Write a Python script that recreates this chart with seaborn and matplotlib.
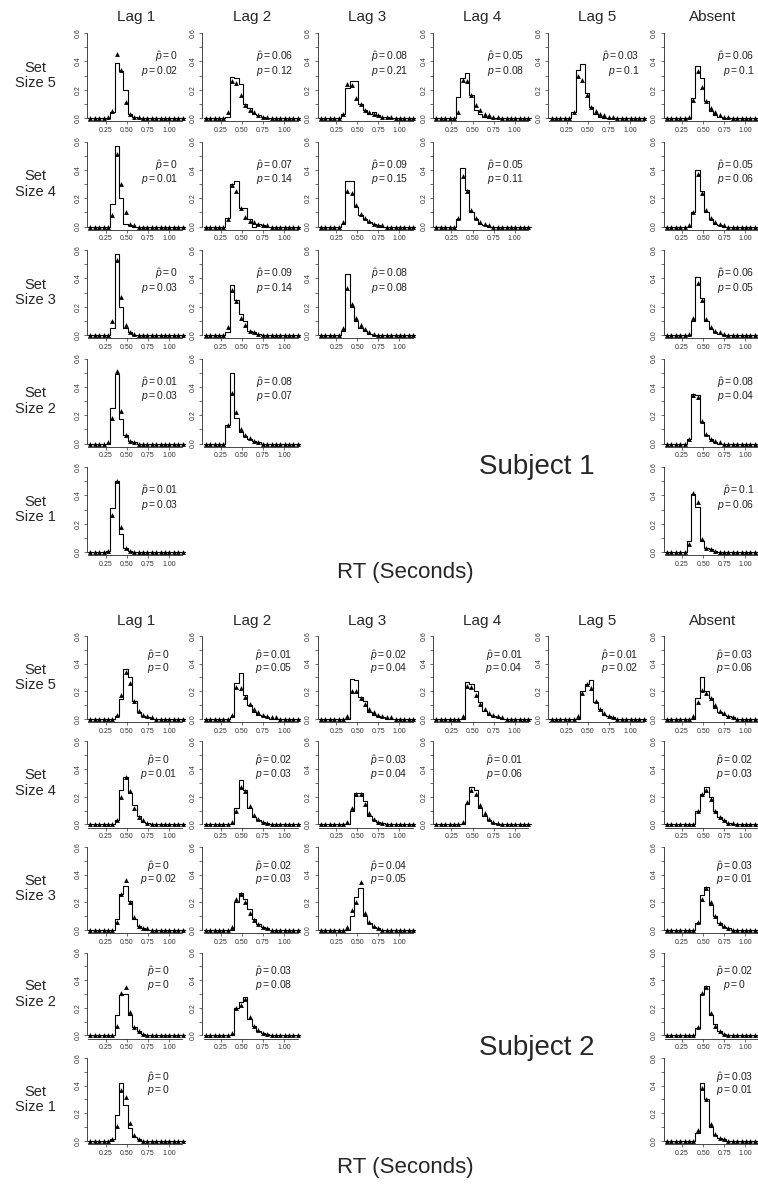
import numpy as np
import pandas as pd
import matplotlib
matplotlib.use("Agg")
import matplotlib.pyplot as plt
import seaborn as sns

# RT bins (seconds), 22 bins
bin_edges = [round(v, 4) for v in np.linspace(0.045, 1.189, 23)]
bin_mids = [(a + b) / 2 for a, b in zip(bin_edges[:-1], bin_edges[1:])]

col_titles = ['Lag 1', 'Lag 2', 'Lag 3', 'Lag 4', 'Lag 5', 'Absent']
set_sizes = [5, 4, 3, 2, 1]

# ---------------- Subject 1: observed (step) / predicted (triangles) ----------------
s1_ss5_lag1_obs = [0, 0, 0, 0, 0, .04, .39, .33, .20, .03, .01, 0, 0, 0, 0, 0, 0, 0, 0, 0, 0, 0]
s1_ss5_lag1_pred = [0, 0, 0, 0, .01, .05, .45, .34, .11, .03, .01, .01, 0, 0, 0, 0, 0, 0, 0, 0, 0, 0]
s1_ss5_lag2_obs = [0, 0, 0, 0, 0, .01, .29, .28, .24, .10, .07, .03, .02, .01, 0, 0, 0, 0, 0, 0, 0, 0]
s1_ss5_lag2_pred = [0, 0, 0, 0, 0, .04, .26, .25, .16, .09, .06, .04, .02, .01, .01, 0, 0, 0, 0, 0, 0, 0]
s1_ss5_lag3_obs = [0, 0, 0, 0, 0, .03, .21, .26, .26, .10, .06, .03, .04, .02, .01, .01, 0, 0, 0, 0, 0, 0]
s1_ss5_lag3_pred = [0, 0, 0, 0, 0, .03, .24, .23, .14, .10, .06, .04, .03, .02, .01, .01, .01, 0, 0, 0, 0, 0]
s1_ss5_lag4_obs = [0, 0, 0, 0, 0, .15, .28, .32, .16, .06, .03, .01, 0, 0, 0, 0, 0, 0, 0, 0, 0, 0]
s1_ss5_lag4_pred = [0, 0, 0, 0, 0, .04, .27, .26, .16, .09, .06, .03, .02, .01, .01, 0, 0, 0, 0, 0, 0, 0]
s1_ss5_lag5_obs = [0, 0, 0, 0, 0, .04, .34, .38, .18, .08, .03, .01, 0, 0, 0, 0, 0, 0, 0, 0, 0, 0]
s1_ss5_lag5_pred = [0, 0, 0, 0, 0, .04, .30, .27, .16, .08, .05, .03, .02, .01, .01, 0, 0, 0, 0, 0, 0, 0]
s1_ss5_abs_obs = [0, 0, 0, 0, 0, 0, .14, .37, .28, .12, .05, .02, .01, 0, 0, 0, 0, 0, 0, 0, 0, 0]
s1_ss5_abs_pred = [0, 0, 0, 0, 0, .01, .13, .33, .22, .12, .07, .04, .02, .01, .01, 0, 0, 0, 0, 0, 0, 0]

s1_ss4_lag1_obs = [0, 0, 0, 0, 0, .16, .57, .20, .02, .01, 0, 0, 0, 0, 0, 0, 0, 0, 0, 0, 0, 0]
s1_ss4_lag1_pred = [0, 0, 0, 0, 0, .08, .51, .30, .10, .02, .01, 0, 0, 0, 0, 0, 0, 0, 0, 0, 0, 0]
s1_ss4_lag2_obs = [0, 0, 0, 0, 0, .06, .30, .32, .13, .13, .05, 0, .02, .01, 0, 0, 0, 0, 0, 0, 0, 0]
s1_ss4_lag2_pred = [0, 0, 0, 0, 0, .05, .29, .25, .13, .07, .04, .03, .02, .01, .01, 0, 0, 0, 0, 0, 0, 0]
s1_ss4_lag3_obs = [0, 0, 0, 0, 0, .02, .32, .32, .14, .08, .05, .03, .02, .01, 0, 0, 0, 0, 0, 0, 0, 0]
s1_ss4_lag3_pred = [0, 0, 0, 0, 0, .03, .25, .24, .15, .09, .06, .04, .02, .01, .01, 0, 0, 0, 0, 0, 0, 0]
s1_ss4_lag4_obs = [0, 0, 0, 0, 0, .05, .41, .26, .10, .05, .02, .01, 0, 0, 0, 0, 0, 0, 0, 0, 0, 0]
s1_ss4_lag4_pred = [0, 0, 0, 0, 0, .06, .36, .25, .12, .06, .03, .02, .01, 0, 0, 0, 0, 0, 0, 0, 0, 0]
s1_ss4_abs_obs = [0, 0, 0, 0, 0, 0, .10, .40, .25, .10, .05, .02, .01, 0, 0, 0, 0, 0, 0, 0, 0, 0]
s1_ss4_abs_pred = [0, 0, 0, 0, 0, .01, .10, .37, .24, .12, .06, .03, .02, .01, 0, 0, 0, 0, 0, 0, 0, 0]

s1_ss3_lag1_obs = [0, 0, 0, 0, 0, .05, .57, .20, .05, .02, 0, 0, 0, 0, 0, 0, 0, 0, 0, 0, 0, 0]
s1_ss3_lag1_pred = [0, 0, 0, 0, 0, .10, .53, .27, .07, .02, .01, 0, 0, 0, 0, 0, 0, 0, 0, 0, 0, 0]
s1_ss3_lag2_obs = [0, 0, 0, 0, 0, .02, .35, .25, .15, .10, .03, .02, .01, 0, 0, 0, 0, 0, 0, 0, 0, 0]
s1_ss3_lag2_pred = [0, 0, 0, 0, 0, .06, .32, .24, .12, .07, .03, .02, .01, 0, 0, 0, 0, 0, 0, 0, 0, 0]
s1_ss3_lag3_obs = [0, 0, 0, 0, 0, .03, .43, .20, .10, .05, .03, .01, 0, 0, 0, 0, 0, 0, 0, 0, 0, 0]
s1_ss3_lag3_pred = [0, 0, 0, 0, 0, .05, .33, .22, .12, .07, .04, .02, .01, 0, 0, 0, 0, 0, 0, 0, 0, 0]
s1_ss3_abs_obs = [0, 0, 0, 0, 0, 0, .10, .41, .26, .10, .04, .02, .01, 0, 0, 0, 0, 0, 0, 0, 0, 0]
s1_ss3_abs_pred = [0, 0, 0, 0, 0, .01, .12, .37, .25, .11, .06, .03, .02, .01, 0, 0, 0, 0, 0, 0, 0, 0]

s1_ss2_lag1_obs = [0, 0, 0, 0, 0, .25, .49, .17, .06, .02, .01, 0, 0, 0, 0, 0, 0, 0, 0, 0, 0, 0]
s1_ss2_lag1_pred = [0, 0, 0, 0, .01, .18, .51, .23, .06, .02, .01, 0, 0, 0, 0, 0, 0, 0, 0, 0, 0, 0]
s1_ss2_lag2_obs = [0, 0, 0, 0, 0, .13, .50, .18, .08, .05, .03, .02, .01, 0, 0, 0, 0, 0, 0, 0, 0, 0]
s1_ss2_lag2_pred = [0, 0, 0, 0, 0, .13, .36, .22, .10, .06, .04, .02, .01, 0, 0, 0, 0, 0, 0, 0, 0, 0]
s1_ss2_abs_obs = [0, 0, 0, 0, 0, .03, .35, .34, .15, .06, .03, .01, 0, 0, 0, 0, 0, 0, 0, 0, 0, 0]
s1_ss2_abs_pred = [0, 0, 0, 0, 0, .03, .34, .33, .16, .07, .03, .02, .01, 0, 0, 0, 0, 0, 0, 0, 0, 0]

s1_ss1_lag1_obs = [0, 0, 0, 0, .01, .31, .50, .13, .03, .01, 0, 0, 0, 0, 0, 0, 0, 0, 0, 0, 0, 0]
s1_ss1_lag1_pred = [0, 0, 0, 0, .01, .26, .50, .18, .03, .01, 0, 0, 0, 0, 0, 0, 0, 0, 0, 0, 0, 0]
s1_ss1_abs_obs = [0, 0, 0, 0, 0, .08, .41, .32, .08, .03, .02, .01, 0, 0, 0, 0, 0, 0, 0, 0, 0, 0]
s1_ss1_abs_pred = [0, 0, 0, 0, 0, .06, .42, .35, .09, .03, .02, .01, 0, 0, 0, 0, 0, 0, 0, 0, 0, 0]

# ---------------- Subject 2 ----------------
s2_ss5_lag1_obs = [0, 0, 0, 0, 0, 0, .02, .14, .36, .30, .13, .05, .02, .01, 0, 0, 0, 0, 0, 0, 0, 0]
s2_ss5_lag1_pred = [0, 0, 0, 0, 0, 0, .03, .17, .34, .26, .13, .06, .03, .02, .01, 0, 0, 0, 0, 0, 0, 0]
s2_ss5_lag2_obs = [0, 0, 0, 0, 0, 0, .01, .26, .33, .17, .10, .05, .03, .02, .01, 0, 0, 0, 0, 0, 0, 0]
s2_ss5_lag2_pred = [0, 0, 0, 0, 0, 0, .03, .23, .22, .16, .11, .07, .05, .03, .02, .01, .01, 0, 0, 0, 0, 0]
s2_ss5_lag3_obs = [0, 0, 0, 0, 0, 0, 0, .29, .28, .16, .13, .05, .03, .02, .01, 0, 0, 0, 0, 0, 0, 0]
s2_ss5_lag3_pred = [0, 0, 0, 0, 0, 0, .02, .20, .20, .15, .11, .07, .05, .03, .02, .01, .01, 0, 0, 0, 0, 0]
s2_ss5_lag4_obs = [0, 0, 0, 0, 0, 0, 0, .27, .25, .20, .12, .06, .03, .02, .01, 0, 0, 0, 0, 0, 0, 0]
s2_ss5_lag4_pred = [0, 0, 0, 0, 0, 0, .02, .24, .23, .17, .11, .07, .04, .03, .02, .01, 0, 0, 0, 0, 0, 0]
s2_ss5_lag5_obs = [0, 0, 0, 0, 0, 0, 0, .20, .25, .28, .12, .07, .03, .02, .01, 0, 0, 0, 0, 0, 0, 0]
s2_ss5_lag5_pred = [0, 0, 0, 0, 0, 0, .02, .19, .25, .22, .13, .07, .04, .02, .01, 0, 0, 0, 0, 0, 0, 0]
s2_ss5_abs_obs = [0, 0, 0, 0, 0, 0, 0, .15, .30, .20, .15, .08, .05, .03, .02, .01, 0, 0, 0, 0, 0, 0]
s2_ss5_abs_pred = [0, 0, 0, 0, 0, 0, .02, .12, .21, .19, .15, .10, .06, .04, .02, .01, 0, 0, 0, 0, 0, 0]

s2_ss4_lag1_obs = [0, 0, 0, 0, 0, 0, .03, .25, .34, .23, .14, .06, .02, .01, 0, 0, 0, 0, 0, 0, 0, 0]
s2_ss4_lag1_pred = [0, 0, 0, 0, 0, 0, .03, .20, .34, .24, .12, .05, .03, .01, 0, 0, 0, 0, 0, 0, 0, 0]
s2_ss4_lag2_obs = [0, 0, 0, 0, 0, 0, 0, .12, .32, .25, .12, .05, .03, .02, .01, 0, 0, 0, 0, 0, 0, 0]
s2_ss4_lag2_pred = [0, 0, 0, 0, 0, 0, .02, .10, .27, .24, .13, .07, .04, .02, .01, 0, 0, 0, 0, 0, 0, 0]
s2_ss4_lag3_obs = [0, 0, 0, 0, 0, 0, 0, .10, .23, .23, .17, .06, .03, .02, .01, 0, 0, 0, 0, 0, 0, 0]
s2_ss4_lag3_pred = [0, 0, 0, 0, 0, 0, .02, .12, .22, .22, .15, .08, .04, .02, .01, 0, 0, 0, 0, 0, 0, 0]
s2_ss4_lag4_obs = [0, 0, 0, 0, 0, 0, 0, .15, .27, .25, .12, .06, .03, .01, 0, 0, 0, 0, 0, 0, 0, 0]
s2_ss4_lag4_pred = [0, 0, 0, 0, 0, 0, .02, .16, .25, .22, .14, .08, .04, .02, .01, 0, 0, 0, 0, 0, 0, 0]
s2_ss4_abs_obs = [0, 0, 0, 0, 0, 0, 0, .10, .22, .27, .20, .10, .05, .03, .01, 0, 0, 0, 0, 0, 0, 0]
s2_ss4_abs_pred = [0, 0, 0, 0, 0, 0, 0, .10, .22, .25, .18, .10, .05, .03, .01, .01, 0, 0, 0, 0, 0, 0]

s2_ss3_lag1_obs = [0, 0, 0, 0, 0, 0, .08, .26, .32, .21, .08, .03, .01, 0, 0, 0, 0, 0, 0, 0, 0, 0]
s2_ss3_lag1_pred = [0, 0, 0, 0, 0, 0, .06, .26, .36, .20, .09, .03, .01, .01, 0, 0, 0, 0, 0, 0, 0, 0]
s2_ss3_lag2_obs = [0, 0, 0, 0, 0, 0, 0, .20, .27, .22, .15, .08, .04, .02, .01, 0, 0, 0, 0, 0, 0, 0]
s2_ss3_lag2_pred = [0, 0, 0, 0, 0, 0, .02, .22, .26, .20, .12, .07, .04, .02, .01, 0, 0, 0, 0, 0, 0, 0]
s2_ss3_lag3_obs = [0, 0, 0, 0, 0, 0, 0, .10, .24, .30, .10, .05, .02, .01, 0, 0, 0, 0, 0, 0, 0, 0]
s2_ss3_lag3_pred = [0, 0, 0, 0, 0, 0, .02, .14, .20, .35, .12, .06, .03, .01, 0, 0, 0, 0, 0, 0, 0, 0]
s2_ss3_abs_obs = [0, 0, 0, 0, 0, 0, 0, .05, .25, .31, .18, .10, .05, .02, .01, 0, 0, 0, 0, 0, 0, 0]
s2_ss3_abs_pred = [0, 0, 0, 0, 0, 0, 0, .06, .22, .30, .20, .10, .05, .03, .01, 0, 0, 0, 0, 0, 0, 0]

s2_ss2_lag1_obs = [0, 0, 0, 0, 0, 0, .15, .29, .30, .15, .06, .03, .01, 0, 0, 0, 0, 0, 0, 0, 0, 0]
s2_ss2_lag1_pred = [0, 0, 0, 0, 0, 0, .07, .31, .35, .17, .06, .03, .01, 0, 0, 0, 0, 0, 0, 0, 0, 0]
s2_ss2_lag2_obs = [0, 0, 0, 0, 0, 0, 0, .20, .24, .28, .12, .07, .03, .02, .01, 0, 0, 0, 0, 0, 0, 0]
s2_ss2_lag2_pred = [0, 0, 0, 0, 0, 0, .02, .20, .22, .26, .13, .07, .04, .02, .01, 0, 0, 0, 0, 0, 0, 0]
s2_ss2_abs_obs = [0, 0, 0, 0, 0, 0, 0, .05, .30, .36, .15, .08, .03, .01, 0, 0, 0, 0, 0, 0, 0, 0]
s2_ss2_abs_pred = [0, 0, 0, 0, 0, 0, 0, .06, .31, .35, .16, .07, .03, .01, 0, 0, 0, 0, 0, 0, 0, 0]

s2_ss1_lag1_obs = [0, 0, 0, 0, 0, .01, .19, .42, .26, .09, .03, .01, 0, 0, 0, 0, 0, 0, 0, 0, 0, 0]
s2_ss1_lag1_pred = [0, 0, 0, 0, 0, .01, .11, .37, .32, .13, .04, .01, 0, 0, 0, 0, 0, 0, 0, 0, 0, 0]
s2_ss1_abs_obs = [0, 0, 0, 0, 0, 0, 0, .06, .42, .30, .10, .04, .02, .01, 0, 0, 0, 0, 0, 0, 0, 0]
s2_ss1_abs_pred = [0, 0, 0, 0, 0, 0, 0, .08, .38, .30, .12, .05, .02, .01, 0, 0, 0, 0, 0, 0, 0, 0]

# p-hat / p annotations, per set size, in column order (lags..., absent)
s1_phat_ss5 = ['0', '0.06', '0.08', '0.05', '0.03', '0.06']
s1_p_ss5 = ['0.02', '0.12', '0.21', '0.08', '0.1', '0.1']
s1_phat_ss4 = ['0', '0.07', '0.09', '0.05', '0.05']
s1_p_ss4 = ['0.01', '0.14', '0.15', '0.11', '0.06']
s1_phat_ss3 = ['0', '0.09', '0.08', '0.06']
s1_p_ss3 = ['0.03', '0.14', '0.08', '0.05']
s1_phat_ss2 = ['0.01', '0.08', '0.08']
s1_p_ss2 = ['0.03', '0.07', '0.04']
s1_phat_ss1 = ['0.01', '0.1']
s1_p_ss1 = ['0.03', '0.06']

s2_phat_ss5 = ['0', '0.01', '0.02', '0.01', '0.01', '0.03']
s2_p_ss5 = ['0', '0.05', '0.04', '0.04', '0.02', '0.06']
s2_phat_ss4 = ['0', '0.02', '0.03', '0.01', '0.02']
s2_p_ss4 = ['0.01', '0.03', '0.04', '0.06', '0.03']
s2_phat_ss3 = ['0', '0.02', '0.04', '0.03']
s2_p_ss3 = ['0.02', '0.03', '0.05', '0.01']
s2_phat_ss2 = ['0', '0.03', '0.02']
s2_p_ss2 = ['0', '0.08', '0']
s2_phat_ss1 = ['0', '0.03']
s2_p_ss1 = ['0', '0.01']

# tables built from the lists above
s1_obs = {5: [s1_ss5_lag1_obs, s1_ss5_lag2_obs, s1_ss5_lag3_obs, s1_ss5_lag4_obs, s1_ss5_lag5_obs, s1_ss5_abs_obs],
          4: [s1_ss4_lag1_obs, s1_ss4_lag2_obs, s1_ss4_lag3_obs, s1_ss4_lag4_obs, s1_ss4_abs_obs],
          3: [s1_ss3_lag1_obs, s1_ss3_lag2_obs, s1_ss3_lag3_obs, s1_ss3_abs_obs],
          2: [s1_ss2_lag1_obs, s1_ss2_lag2_obs, s1_ss2_abs_obs],
          1: [s1_ss1_lag1_obs, s1_ss1_abs_obs]}
s1_pred = {5: [s1_ss5_lag1_pred, s1_ss5_lag2_pred, s1_ss5_lag3_pred, s1_ss5_lag4_pred, s1_ss5_lag5_pred, s1_ss5_abs_pred],
           4: [s1_ss4_lag1_pred, s1_ss4_lag2_pred, s1_ss4_lag3_pred, s1_ss4_lag4_pred, s1_ss4_abs_pred],
           3: [s1_ss3_lag1_pred, s1_ss3_lag2_pred, s1_ss3_lag3_pred, s1_ss3_abs_pred],
           2: [s1_ss2_lag1_pred, s1_ss2_lag2_pred, s1_ss2_abs_pred],
           1: [s1_ss1_lag1_pred, s1_ss1_abs_pred]}
s2_obs = {5: [s2_ss5_lag1_obs, s2_ss5_lag2_obs, s2_ss5_lag3_obs, s2_ss5_lag4_obs, s2_ss5_lag5_obs, s2_ss5_abs_obs],
          4: [s2_ss4_lag1_obs, s2_ss4_lag2_obs, s2_ss4_lag3_obs, s2_ss4_lag4_obs, s2_ss4_abs_obs],
          3: [s2_ss3_lag1_obs, s2_ss3_lag2_obs, s2_ss3_lag3_obs, s2_ss3_abs_obs],
          2: [s2_ss2_lag1_obs, s2_ss2_lag2_obs, s2_ss2_abs_obs],
          1: [s2_ss1_lag1_obs, s2_ss1_abs_obs]}
s2_pred = {5: [s2_ss5_lag1_pred, s2_ss5_lag2_pred, s2_ss5_lag3_pred, s2_ss5_lag4_pred, s2_ss5_lag5_pred, s2_ss5_abs_pred],
           4: [s2_ss4_lag1_pred, s2_ss4_lag2_pred, s2_ss4_lag3_pred, s2_ss4_lag4_pred, s2_ss4_abs_pred],
           3: [s2_ss3_lag1_pred, s2_ss3_lag2_pred, s2_ss3_lag3_pred, s2_ss3_abs_pred],
           2: [s2_ss2_lag1_pred, s2_ss2_lag2_pred, s2_ss2_abs_pred],
           1: [s2_ss1_lag1_pred, s2_ss1_abs_pred]}
s1_phat = {5: s1_phat_ss5, 4: s1_phat_ss4, 3: s1_phat_ss3, 2: s1_phat_ss2, 1: s1_phat_ss1}
s1_p = {5: s1_p_ss5, 4: s1_p_ss4, 3: s1_p_ss3, 2: s1_p_ss2, 1: s1_p_ss1}
s2_phat = {5: s2_phat_ss5, 4: s2_phat_ss4, 3: s2_phat_ss3, 2: s2_phat_ss2, 1: s2_phat_ss1}
s2_p = {5: s2_p_ss5, 4: s2_p_ss4, 3: s2_p_ss3, 2: s2_p_ss2, 1: s2_p_ss1}

sns.set_style("ticks")
plt.rcParams['font.family'] = ['Liberation Sans', 'DejaVu Sans']
plt.rcParams['mathtext.fontset'] = 'custom'
plt.rcParams['mathtext.rm'] = 'Liberation Sans'
plt.rcParams['mathtext.it'] = 'Liberation Sans:italic'
plt.rcParams['mathtext.default'] = 'regular'

W, H = 758, 1184
fig = plt.figure(figsize=(W / 100, H / 100), dpi=100)


def add_px(left, top, w, h):
    return fig.add_axes([left / W, 1 - (top + h) / H, w / W, h / H])


def draw_panel(ax, obs, pred, phat, p, txt):
    df = pd.DataFrame({'rt': bin_mids, 'obs': obs, 'pred': pred})
    sns.histplot(data=df, x='rt', weights='obs', bins=bin_edges, element='step', fill=False,
                 color='black', linewidth=0.8, ax=ax)
    sns.scatterplot(data=df, x='rt', y='pred', marker='^', color='black', s=12, linewidth=0, ax=ax)
    ax.set_xlim(0.03, 1.2)
    ax.set_ylim(-0.024, 0.624)
    ax.set_xlabel('')
    ax.set_ylabel('')
    ax.set_xticks([0.25, 0.5, 0.75, 1.0])
    ax.set_xticklabels(['0.25', '0.50', '0.75', '1.00'])
    ax.set_yticks([0, 0.1, 0.2, 0.3, 0.4, 0.5, 0.6])
    ax.set_yticklabels(['0.0', '', '0.2', '', '0.4', '', '0.6'])
    ax.tick_params(length=2.5, width=0.5, pad=1.5, labelsize=5, colors='#333333')
    ax.tick_params(axis='y', labelrotation=90)
    for lab in ax.get_yticklabels():
        lab.set_va('center')
    sns.despine(ax=ax)
    ax.spines['left'].set_bounds(0, 0.6)
    ax.spines['bottom'].set_bounds(0.045, 1.16)
    for s in ('left', 'bottom'):
        ax.spines[s].set_linewidth(0.6)
    ax.patch.set_alpha(0)
    tx, ha, y1, y2 = txt
    ax.text(tx, y1, r'$\hat{\mathit{p}} = ' + phat + '$', ha=ha, va='center',
            fontsize=7.5, color='#222222')
    ax.text(tx, y2, r'$\mathit{p} = ' + p + '$', ha=ha, va='center',
            fontsize=7.5, color='#222222')


subjects = [
    dict(name='Subject 1', obs=s1_obs, pred=s1_pred, phat=s1_phat, p=s1_p,
         top=33, step=108.5, ppu=141.7, title_y=17, txt=(1.11, 'right', 0.43, 0.335),
         label_xy=(537, 467), rt_xy=(405, 573)),
    dict(name='Subject 2', obs=s2_obs, pred=s2_pred, phat=s2_phat, p=s2_p,
         top=636, step=105.5, ppu=138.0, title_y=621, txt=(0.875, 'center', 0.46, 0.365),
         label_xy=(537, 1048), rt_xy=(405, 1167)),
]

col_left0, col_step, ax_w = 87, 115.3, 98.7

for sub in subjects:
    for ci, t in enumerate(col_titles):
        fig.text((col_left0 + ax_w / 2 + ci * col_step) / W, 1 - sub['title_y'] / H, t,
                 ha='center', va='center', fontsize=11)
    for ri, ss in enumerate(set_sizes):
        y06 = sub['top'] + ri * sub['step']
        ax_top = y06 - 0.024 * sub['ppu']
        ax_h = 0.648 * sub['ppu']
        fig.text(35 / W, 1 - (y06 + 0.3 * sub['ppu']) / H, 'Set\nSize %d' % ss,
                 ha='center', va='center', fontsize=10.5, linespacing=1.15)
        cols = list(range(ss)) + [5]
        for k, ci in enumerate(cols):
            ax = add_px(col_left0 + ci * col_step, ax_top, ax_w, ax_h)
            draw_panel(ax, sub['obs'][ss][k], sub['pred'][ss][k],
                       sub['phat'][ss][k], sub['p'][ss][k], sub['txt'])
    fig.text(sub['label_xy'][0] / W, 1 - sub['label_xy'][1] / H, sub['name'],
             ha='center', va='center', fontsize=20)
    fig.text(sub['rt_xy'][0] / W, 1 - sub['rt_xy'][1] / H, 'RT (Seconds)',
             ha='center', va='center', fontsize=16)

fig.savefig('out.png', dpi=100)
